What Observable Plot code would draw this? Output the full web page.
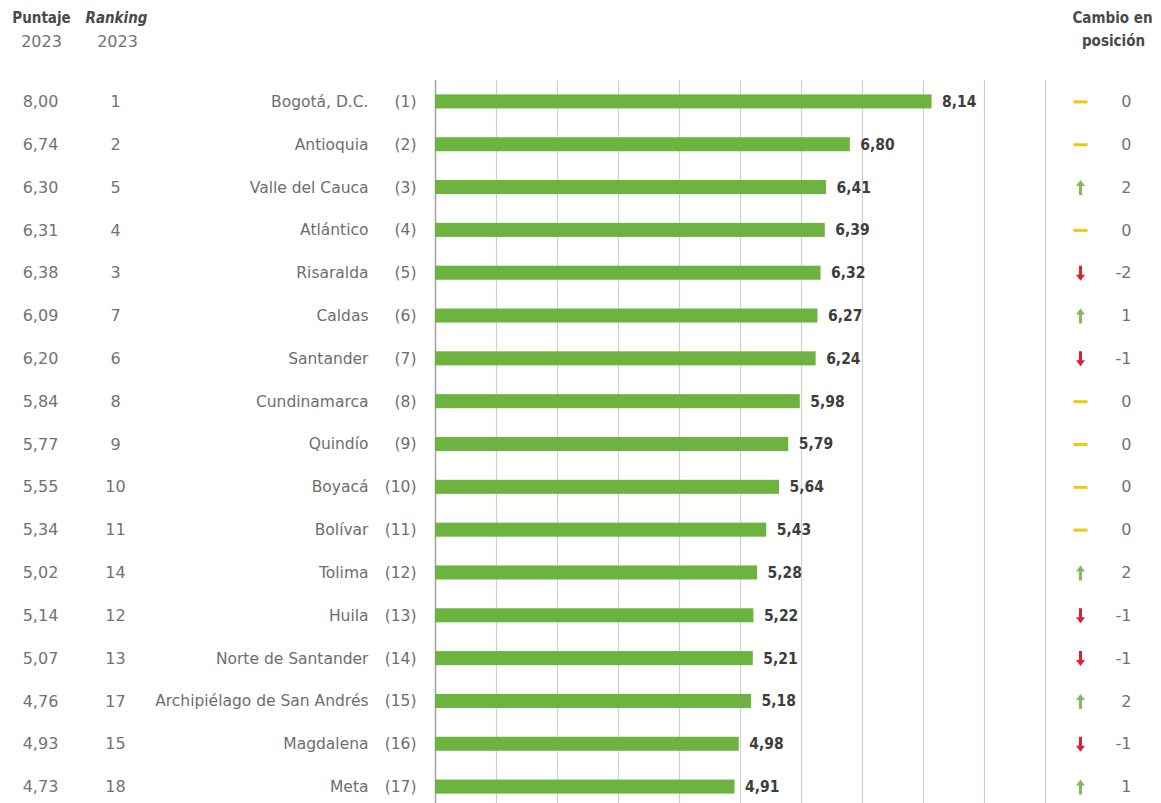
<!DOCTYPE html>
<html>
<head>
<meta charset="utf-8">
<script src="https://cdn.jsdelivr.net/npm/d3@7"></script>
<script src="https://cdn.jsdelivr.net/npm/@observablehq/plot@0.6"></script>
<style>
  html, body { margin: 0; padding: 0; background: #fff; overflow: hidden; }
</style>
</head>
<body>
<div id="chart"></div>
<script>
// ---- Data ----
const departamentos = ["Bogotá, D.C.", "Antioquia", "Valle del Cauca", "Atlántico", "Risaralda", "Caldas", "Santander", "Cundinamarca", "Quindío", "Boyacá", "Bolívar", "Tolima", "Huila", "Norte de Santander", "Archipiélago de San Andrés", "Magdalena", "Meta"];
const rankingActual = [1, 2, 3, 4, 5, 6, 7, 8, 9, 10, 11, 12, 13, 14, 15, 16, 17];
const puntajeActual = [8.14, 6.80, 6.41, 6.39, 6.32, 6.27, 6.24, 5.98, 5.79, 5.64, 5.43, 5.28, 5.22, 5.21, 5.18, 4.98, 4.91];
const puntaje2023 = [8.00, 6.74, 6.30, 6.31, 6.38, 6.09, 6.20, 5.84, 5.77, 5.55, 5.34, 5.02, 5.14, 5.07, 4.76, 4.93, 4.73];
const ranking2023 = [1, 2, 5, 4, 3, 7, 6, 8, 9, 10, 11, 14, 12, 13, 17, 15, 18];
const cambioPosicion = [0, 0, 2, 0, -2, 1, -1, 0, 0, 0, 0, 2, -1, -1, 2, -1, 1];
const xTicks = [0, 1, 2, 3, 4, 5, 6, 7, 8, 9, 10];

const data = departamentos.map((nombre, i) => ({
  nombre,
  rank: rankingActual[i],
  puntaje: puntajeActual[i],
  p2023: puntaje2023[i],
  r2023: ranking2023[i],
  cambio: cambioPosicion[i]
}));

const fmt = v => d3.format(".2f")(v).replace(".", ",");
const font = "'DejaVu Sans', sans-serif";
const fontCond = "'DejaVu Sans Condensed', 'DejaVu Sans', sans-serif";

// custom vector shapes
const arrowShape = {
  draw(ctx, l) {
    const w = 3, hw = 9, h = 6;
    ctx.moveTo(-w / 2, 0);
    ctx.lineTo(-w / 2, -l + h);
    ctx.lineTo(-hw / 2, -l + h);
    ctx.lineTo(0, -l);
    ctx.lineTo(hw / 2, -l + h);
    ctx.lineTo(w / 2, -l + h);
    ctx.lineTo(w / 2, 0);
    ctx.closePath();
  }
};
const dashShape = {
  draw(ctx, l) {
    const w = 3;
    ctx.moveTo(-w / 2, 0);
    ctx.lineTo(-w / 2, -l);
    ctx.lineTo(w / 2, -l);
    ctx.lineTo(w / 2, 0);
    ctx.closePath();
  }
};

const one = [0];
const hdr = (text, opts) => Plot.text(one, {text: () => text, lineAnchor: "middle", textAnchor: "middle", ...opts});

const chart = Plot.plot({
  width: 1161,
  height: 808,
  marginLeft: 435,
  marginRight: 116,
  marginTop: 80,
  marginBottom: 0,
  style: {fontFamily: font, fontSize: "15.5px", color: "#6e6e6e", background: "#fff"},
  x: {domain: [0, 10], axis: null},
  y: {domain: departamentos, axis: null, padding: 0, round: false},
  marks: [
    Plot.ruleX(xTicks.filter(t => t > 0), {stroke: "#cfcfcf", strokeWidth: 1.2}),
    Plot.ruleX([0], {stroke: "#a6a6a6", strokeWidth: 1.6}),
    Plot.barX(data, {x: "puntaje", y: "nombre", fill: "#6db33f", insetTop: 14.4, insetBottom: 14.4}),
    Plot.text(data, {x: "puntaje", y: "nombre", text: d => fmt(d.puntaje), dx: 10, textAnchor: "start", fontWeight: "bold", fill: "#3d3d3d", fontSize: 15.5, fontFamily: fontCond}),
    // left columns
    Plot.text(data, {y: "nombre", text: "nombre", frameAnchor: "left", textAnchor: "end", dx: -67, fill: "#6e6e6e"}),
    Plot.text(data, {y: "nombre", text: d => `(${d.rank})`, frameAnchor: "left", textAnchor: "end", dx: -19, fill: "#6e6e6e"}),
    Plot.text(data, {y: "nombre", text: d => fmt(d.p2023), frameAnchor: "left", textAnchor: "middle", dx: -395, fill: "#727272", fontSize: 16}),
    Plot.text(data, {y: "nombre", text: d => String(d.r2023), frameAnchor: "left", textAnchor: "middle", dx: -320, fill: "#727272", fontSize: 16}),
    // change column
    Plot.vector(data.filter(d => d.cambio > 0), {y: "nombre", frameAnchor: "right", dx: 35, length: 15, shape: arrowShape, fill: "#86b95c", stroke: "none", anchor: "middle"}),
    Plot.vector(data.filter(d => d.cambio < 0), {y: "nombre", frameAnchor: "right", dx: 35, length: 15, rotate: 180, shape: arrowShape, fill: "#e0202c", stroke: "none", anchor: "middle"}),
    Plot.vector(data.filter(d => d.cambio === 0), {y: "nombre", frameAnchor: "right", dx: 35, length: 14, rotate: 90, shape: dashShape, fill: "#f3c613", stroke: "none", anchor: "middle"}),
    Plot.text(data, {y: "nombre", text: d => String(d.cambio), frameAnchor: "right", textAnchor: "end", dx: 86, fill: "#727272", fontSize: 16}),
    // headers
    hdr("Puntaje", {frameAnchor: "top-left", dx: -394, dy: -62, fontWeight: "bold", fill: "#4a4a4a", fontSize: 15, fontFamily: fontCond}),
    hdr("2023", {frameAnchor: "top-left", dx: -394, dy: -39, fill: "#727272", fontSize: 16}),
    hdr("Ranking", {frameAnchor: "top-left", dx: -319, dy: -62, fontWeight: "bold", fontStyle: "italic", fill: "#4a4a4a", fontSize: 15, fontFamily: fontCond}),
    hdr("2023", {frameAnchor: "top-left", dx: -318, dy: -39, fill: "#727272", fontSize: 16}),
    hdr("Cambio en", {frameAnchor: "top-right", dx: 67, dy: -62, fontWeight: "bold", fill: "#4a4a4a", fontSize: 15, fontFamily: fontCond}),
    hdr("posición", {frameAnchor: "top-right", dx: 68, dy: -39, fontWeight: "bold", fill: "#4a4a4a", fontSize: 15, fontFamily: fontCond})
  ]
});

document.getElementById("chart").appendChild(chart);
</script>
</body>
</html>
